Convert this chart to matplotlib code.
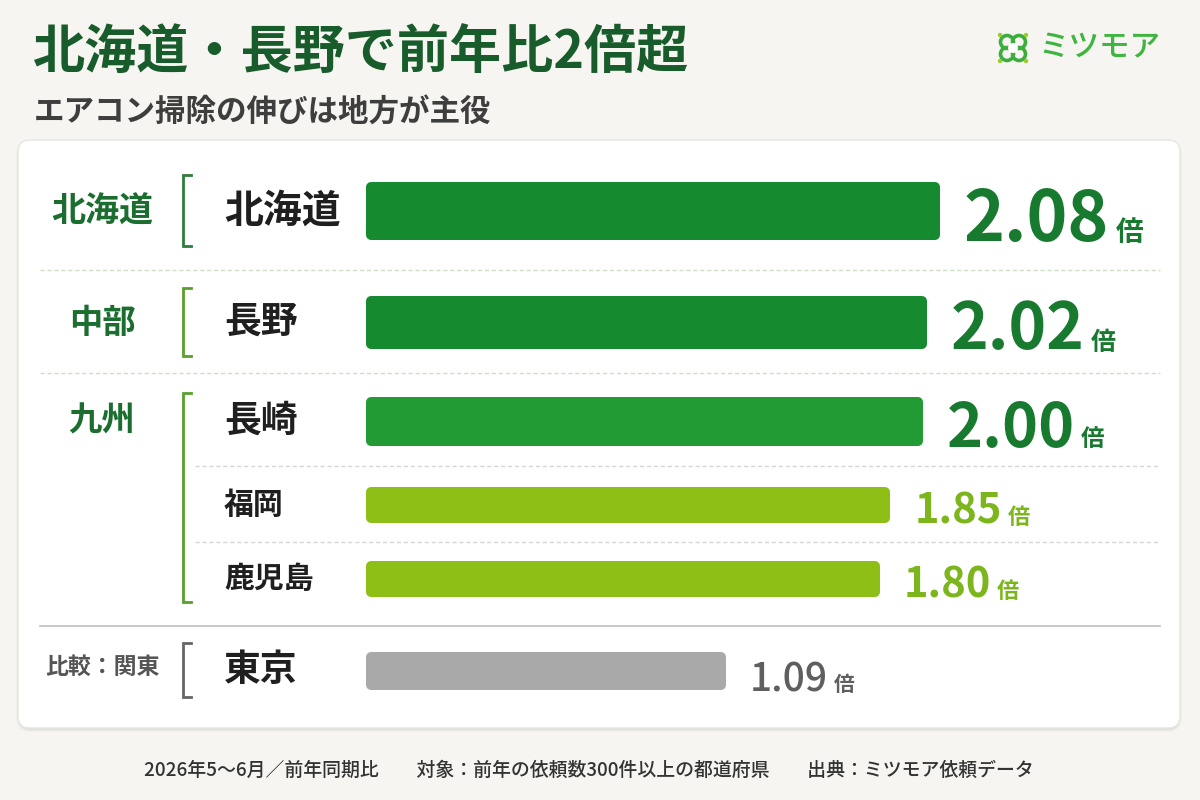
import matplotlib.pyplot as plt
from matplotlib.patches import FancyBboxPatch, Circle

plt.rcParams['font.family'] = ['Noto Sans CJK JP', 'DejaVu Sans']

# Data
regions = ['北海道', '中部', '九州', '比較：関東']
prefectures = ['北海道', '長野', '長崎', '福岡', '鹿児島', '東京']
ratios = [2.08, 2.02, 2.00, 1.85, 1.80, 1.09]
title = '北海道・長野で前年比2倍超'
subtitle = 'エアコン掃除の伸びは地方が主役'
footer = '2026年5～6月／前年同期比　　対象：前年の依頼数300件以上の都道府県　　出典：ミツモア依頼データ'

# Layout (pixels, y down)
row_y = [211, 322, 421, 505, 579, 671]
bar_h = [58, 53, 49, 36, 36, 38]
bar_colors = ['#168a2e', '#168a2e', '#239b35', '#8dbf17', '#8dbf17', '#a9a9a9']
val_colors = ['#177a2f', '#177a2f', '#177a2f', '#7db51c', '#7db51c', '#5f5f5f']
val_sizes = [50, 46, 44, 30, 30, 28]
unit_sizes = [20, 18, 17, 16, 16, 15]
val_weights = ['bold'] * 5 + ['medium']
pref_sizes = [28, 26.5, 26.5, 21.5, 21.5, 26.5]
region_y = [211, 323, 421, 667]
region_sizes = [24.5, 24, 24, 16.5]
region_colors = ['#1c6e30', '#1c6e30', '#1c6e30', '#555555']
brackets = [(175, 246, '#2f7d3a'), (288, 356, '#5aa02c'), (393, 602, '#5aa02c'), (643, 697, '#666666')]

fig = plt.figure(figsize=(12, 8), dpi=100)
fig.patch.set_facecolor('#f6f5f1')

bg = fig.add_axes([0, 0, 1, 1])
bg.set_xlim(0, 1200)
bg.set_ylim(800, 0)
bg.axis('off')

# card with soft shadow
for i, a in enumerate([0.04, 0.03, 0.02]):
    bg.add_patch(FancyBboxPatch((18 - i, 142 - i), 1162 + 2 * i, 588 + 2 * i,
                                boxstyle='round,pad=0,rounding_size=14',
                                fc='#000000', ec='none', alpha=a))
bg.add_patch(FancyBboxPatch((18, 140), 1162, 588, boxstyle='round,pad=0,rounding_size=12',
                            fc='white', ec='#e6e6e2', lw=1))

# titles
bg.text(33, 52, title, fontsize=37.5, fontweight='bold', color='#185c2b', va='center', ha='left')
bg.text(34, 112, subtitle, fontsize=22, fontweight='bold', color='#3e3e3e', va='center', ha='left')

# logo
cx, cy = 1013, 48
for dx, dy in [(-6, -6), (6, -6), (-6, 6), (6, 6)]:
    bg.add_patch(Circle((cx + dx, cy + dy), 6.5, fc='none', ec='#3dae3d', lw=2.6))
for dx, dy in [(-13, -13), (13, -13), (-13, 13), (13, 13)]:
    bg.add_patch(Circle((cx + dx, cy + dy), 2.2, fc='#9ccc2a', ec='none'))
bg.add_patch(Circle((cx, cy), 5, fc='white', ec='none'))
bg.text(1038, 48, 'ミツモア', fontsize=22, fontweight='medium', color='#3db53f', va='center', ha='left')

# separators
bg.plot([40, 1160], [270, 270], color='#cfdcc6', lw=1, ls=(0, (3, 2)))
bg.plot([40, 1160], [373, 373], color='#cfdcc6', lw=1, ls=(0, (3, 2)))
bg.plot([195, 1160], [466, 466], color='#d6d6d6', lw=1, ls=(0, (3, 2)))
bg.plot([195, 1160], [542, 542], color='#d6d6d6', lw=1, ls=(0, (3, 2)))
bg.plot([40, 1160], [626, 626], color='#c4c4c4', lw=1.3)

# brackets
for top, bot, c in brackets:
    bg.plot([191, 183, 183, 191], [top, top, bot, bot], color=c, lw=2, solid_joinstyle='miter')

# region labels
for name, y, s, c in zip(regions, region_y, region_sizes, region_colors):
    bg.text(102, y, name, fontsize=s, fontweight='bold', color=c, va='center', ha='center')

# prefecture labels
for name, y, s in zip(prefectures, row_y, pref_sizes):
    bg.text(224, y, name, fontsize=s, fontweight='bold', color='#1f1f1f', va='center', ha='left')

# footer
bg.text(589, 770, footer, fontsize=13.6, fontweight='medium', color='#333333', va='center', ha='center')

# bars
px_per_unit = 216.0
bar_left_px, right_px = 366, 1180
v0 = ratios[0] - (940 - bar_left_px) / px_per_unit
ax = fig.add_axes([bar_left_px / 1200, 0, (right_px - bar_left_px) / 1200, 1])
ax.set_xlim(v0, v0 + (right_px - bar_left_px) / px_per_unit)
ax.set_ylim(800, 0)
ax.axis('off')
ax.patch.set_alpha(0)

r = 5  # corner radius in px
rx = r / px_per_unit
ax.barh(row_y, [v - v0 - 2 * rx for v in ratios], left=v0 + rx,
        height=[h - 2 * r for h in bar_h], color=bar_colors, edgecolor=bar_colors,
        linewidth=2 * r * 0.72, joinstyle='round')

for v, y, h, c, s, us, w in zip(ratios, row_y, bar_h, val_colors, val_sizes, unit_sizes, val_weights):
    base = y + h / 2 + 1
    num = ax.annotate(f'{v:.2f}', xy=(v, base), xytext=(24, 0), textcoords='offset pixels',
                      fontsize=s, fontweight=w, color=c, va='baseline', ha='left')
    ax.annotate('倍', xy=(1, base), xycoords=(num, 'data'), xytext=(6, 0), textcoords='offset pixels',
                fontsize=us, fontweight='bold', color=c, va='baseline', ha='left')

fig.savefig('out.png', dpi=100, facecolor=fig.get_facecolor())
